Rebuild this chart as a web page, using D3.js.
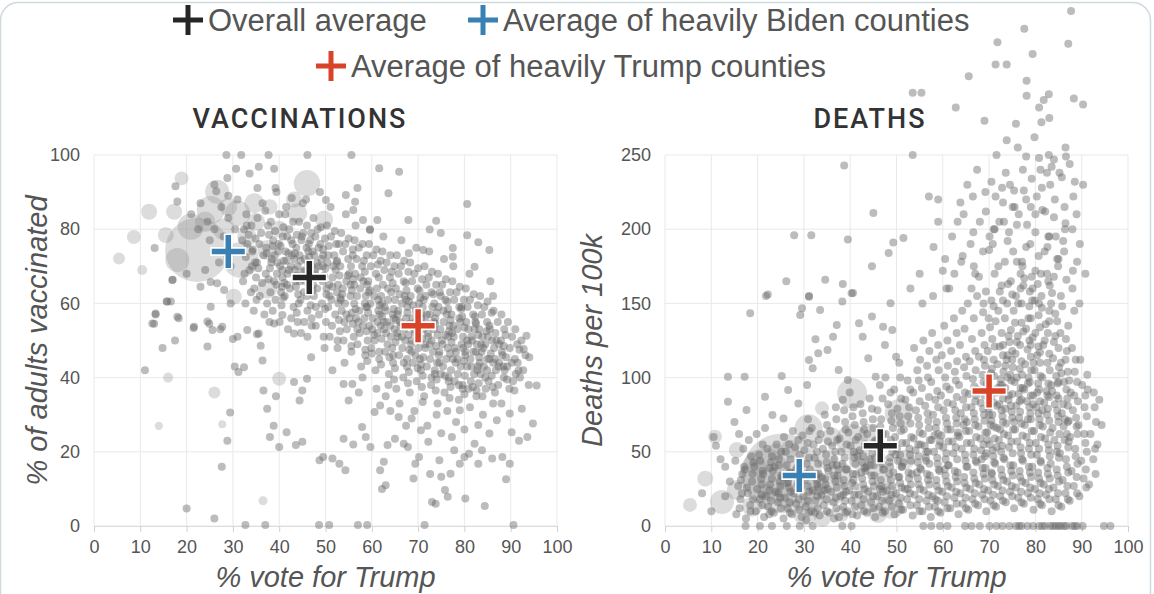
<!DOCTYPE html>
<html>
<head>
<meta charset="utf-8">
<script src="https://cdn.jsdelivr.net/npm/d3@7"></script>
<style>
  body { margin: 0; background: #fff; }
</style>
</head>
<body>
<div id="chart"></div>
<script>
// ---- data ----

const voteTicks = [0, 10, 20, 30, 40, 50, 60, 70, 80, 90, 100];
const vaccTicks = [0, 20, 40, 60, 80, 100];
const deathTicks = [0, 50, 100, 150, 200, 250];

const averageNames = ["Overall average", "Average of heavily Biden counties", "Average of heavily Trump counties"];

// [% vote for Trump, value] : overall, heavily Biden, heavily Trump
const vaccAverages = [[46.5, 67], [29, 74], [70, 54]];
const deathAverages = [[46.5, 54], [29, 34], [70, 91]];

// big counties: [vote, value, population in thousands]
const vaccBubbles = [
  [22.3, 74.4, 8900], [31.7, 71.7, 2800], [25.2, 85.2, 1700], [20.9, 80.7, 1500], [46, 92.4, 1500],
  [31, 84.3, 1400], [26.6, 90.1, 1250], [18, 71.7, 1250], [34.6, 87, 870], [37.4, 64, 870],
  [37.4, 74.4, 870], [43.9, 84.3, 870], [49.7, 82.6, 700], [11.9, 84.7, 550], [17.3, 84.7, 550],
  [15.5, 78.4, 550], [43.2, 88, 550], [30.2, 61.8, 550], [18.9, 93.7, 420], [8.6, 77.9, 420],
  [40, 39.7, 420], [5.4, 72.1, 310], [26, 36, 310], [10.4, 69, 220], [16, 40, 220],
  [14, 27, 150], [36.5, 6.8, 180], [27.7, 27.4, 120], [24, 82, 900], [28, 80, 1000],
  [33, 78, 800], [29, 86, 700], [35, 82, 700], [40, 80, 600], [38, 86, 500]
];

const deathBubbles = [
  [25.3, 35.5, 13800], [21.6, 35.5, 5400], [40.4, 57.9, 2200], [40.4, 89.4, 1950], [36, 24.2, 1950],
  [31, 65.8, 1700], [50.5, 75.9, 1700], [43.3, 17.5, 1700], [12.3, 16.2, 1250], [49, 13, 1250],
  [30.3, 8.5, 1250], [33, 28, 1000], [15.5, 24.2, 870], [18.8, 13, 870], [45, 40, 870],
  [35, 45, 870], [27, 52, 700], [22, 22, 700], [47, 30, 700], [8.7, 31.9, 550],
  [15.5, 51.2, 550], [38, 8, 550], [5.4, 14.2, 420], [10.8, 60.2, 420], [33.9, 79.3, 420],
  [38, 35, 1250], [42, 45, 1000], [48, 22, 900], [32, 18, 900], [26, 20, 1200],
  [36, 60, 800], [44, 62, 900], [20, 40, 700], [24, 50, 600], [52, 45, 800],
  [46, 8, 700], [34, 5, 600]
];

// small counties: [vote, % adults vaccinated]
const vaccPoints = [
  // sparse lower part
  [15.7,60.5],[13,54.5],[13.3,57],[18.3,56],[14.8,48],[17.5,50],[11,42],[27.6,16],[28.8,23],[29.4,30.6],
  [20,4.7],[26,2],[24.5,48.4],[21.5,53.4],[24.9,54.5],[27.3,53],[30,50.4],[30.4,43],[31.2,41.5],[32.4,42.8],
  [32.7,0.3],[35.2,51.7],[36,48.6],[36.4,44.6],[36.6,36.5],[37.4,31.6],[37,0.3],[38,24],[38.8,27],[39.3,35],
  [40,21.3],[41.6,25.3],[43.2,38.8],[43.6,21.8],[45,22.7],[44.4,33.8],[45,36.5],[46,39.7],[46.9,45.5],[47,54],
  [48.7,17.7],[49.5,18.6],[48.6,0.3],[50.8,0.3],[51.5,18.2],[53,16.8],[54.3,15],[51.5,42],[53.9,38.3],[55,33.8],
  [55.8,38.3],[53.9,23.5],[56,22],[57.9,26.7],[57,0.3],[59,0.3],[58.7,24],[59.7,21.3],[60.6,30.7],[61.8,32.5],
  [61.8,15],[62.2,10],[63,11],[62.6,17.3],[63.4,21.8],[65,23.5],[65.8,29.4],[66.9,22.2],[67.4,27],[67.8,21.3],
  [68.6,29],[69,12.8],[69.4,16.8],[70.2,18.6],[70.6,25.8],[71.4,0.3],[72.2,22.7],[72.6,14],[73,6.5],[73.8,6],
  [74.6,17.7],[75,13.3],[75.8,9.7],[76.4,7.9],[77,14.1],[77.8,20.4],[78.2,28],[79,16.8],[80,18.6],[80.2,7.4],
  [81,19.5],[82.2,22.2],[83,16.8],[83.8,20.4],[84.4,5.4],[85.4,24.9],[86,18.2],[87,28.5],[88.2,18.6],[89,12.6],
  [89.8,16.8],[89.8,30.3],[90.6,0.3],[90.2,25.3],[91.8,23],[92.4,31.6],[93.6,24],[94.8,27.6],[95.6,37.9],[94,45.5],
  [92.8,47.7],[93.4,51.3],[91.7,41.9],[90.8,36.5],[63,35],[66,33],[69.2,31],[71,33.4],[74,30],[76.3,31],
  [79,31.2],[81.2,32],[84,30],[86.2,33],[88,33],[72,27],[75,25],[77.3,24],[80,26],[83,27.2],
  [61,37],[58,40],[57.2,36],[64,31],
  // top edge
  [28.6,100],[31.8,100],[37.7,100],[46.1,100],[55.6,100],[30.7,96.3],[33.6,95],[35.6,96.8],[38.9,96.3],[17.6,91.6],
  [18,87.5],[26.4,90.2],[28.8,93.8],[35.3,91.1],[39.2,91.1],[42.7,88.4],[45.1,87],[50.1,87.9],[54.4,89.2],[56.9,91.1],
  [56,85.2],[58.1,82.5],[59.6,79.8],[61.6,96.4],[65.9,95.5],[63.6,89.7],[56.4,87.4],[61.2,82.5],[67.9,82.5],[73.9,82.3],
  [80.6,86.8],[80.6,78.4],[83,76.5],[85.4,74.4],[82.2,69.9],[77.5,72.6],[68,73.5],[71.1,74.4],[77.5,74.9],[74.9,79],
  [72.5,79.9],
  // left, heavily Biden side
  [13.3,57.3],[12.6,54.6],[15.8,60.5],[18,56.4],[21.6,53.7],[24.5,55.1],[25.6,52.8],[27.7,53.7],[31,51],[33.1,52.8],
  [35.6,51.9],[38.9,54.6],[40.7,56.9],[43.2,51.9],[46.1,51],[16.9,66.3],[16.6,60.5],[23,64.5],[25.2,65.8],[26.6,65.4],
  [28.1,63.6],[29.5,60],[25.2,59.1],[13.1,74.9],[17,66.4],[21,84],[23,87],[24.5,82],[26,80],[27.5,86],
  [29,83],[30.5,80],[32,77],[28,78],[25,77],[22.5,80],[27,71],[29.5,70],[32.5,68],[24,69],
  [20,68],[31,88],[33,81],[29,89],[26,92],
  // dense band
  [32.4,80],[33.1,76],[32.8,72.5],[33.6,69],[32.2,66],[33.9,63],[32.7,60],[34.2,74],[33.4,78.5],[32.9,84],[34.5,58],[34.8,71],
  [35.3,83],[36.1,79],[35.7,76],[36.6,73],[35.2,71],[37.1,68],[36.3,65.5],[35.8,62],[37.4,60],[36.8,57],[37.2,75],[35.5,69.5],[36.4,87],[37.6,81],
  [38.2,82],[39.1,79.5],[38.7,77],[39.8,74],[38.4,72],[40.2,70],[39.5,68],[38.9,66],[40.4,63],[39.2,61],[38.6,58],[40.1,55],[39.9,76],[38.3,71],[40.6,64.5],[39.4,90],[40.8,78],
  [41.3,84],[42.2,80],[41.7,78],[42.9,76],[41.4,74],[43.2,72],[42.5,70],[41.8,68],[43.5,66],[42.3,64],[41.2,62],[43.1,59],[42.6,56],[41.9,53],[43.7,75],[42.1,69],[41.5,86],[43.9,67.5],
  [44.3,82],[45.2,79],[44.8,77],[45.9,75],[44.4,73],[46.2,71],[45.6,69],[44.9,67],[46.5,65],[45.3,63],[44.6,61],[46.1,58],[45.4,55],[44.7,52],[46.3,74],[45.1,68.5],[44.2,60],[45.8,88],[46.7,77],
  [47.4,83],[48.3,80],[47.8,78],[48.9,76],[47.2,74],[49.1,72],[48.5,70],[47.7,68],[49.4,66],[48.2,64],[47.5,62],[49.2,60],[48.6,57],[47.9,54],[49.6,51],[48.1,71],[47.3,65],[48.8,90],[49.8,48],[49.5,74.5],
  [50.3,81],[51.2,78],[50.7,75.5],[51.9,73],[50.4,71],[52.2,69],[51.5,67],[50.8,65],[52.5,63],[51.3,61],[50.6,59],[52.1,57],[51.4,54],[50.9,51],[52.6,48],[51.7,70],[50.2,64],[52.8,60],[51.1,86],[52.3,76],
  [53.4,79],[54.3,76],[53.8,74],[54.9,72],[53.2,70],[55.1,68],[54.5,66],[53.7,64],[55.4,62],[54.2,60],[53.5,58],[55.2,56],[54.6,53],[53.9,50],[55.6,47],[54.1,44],[54.8,67.5],[53.3,61],[55.7,57.5],[54.4,84],[55.9,73],
  [56.3,77],[57.2,75],[56.7,72],[57.9,70],[56.4,68],[58.2,66],[57.5,64],[56.8,62],[58.5,60],[57.3,58],[56.6,56],[58.1,54],[57.4,52],[56.9,49],[58.6,46],[57.7,43],[56.2,65],[58.8,59],[57.1,55],[56.5,81],[58.3,71.5],
  [59.4,76],[60.3,73],[59.8,70],[60.9,68],[59.2,66],[61.1,64],[60.5,62],[59.7,60],[61.4,58],[60.2,56],[59.5,54],[61.2,52],[60.6,50],[59.9,48],[61.6,45],[60.8,42],[59.3,63],[61.7,57],[60.1,53],[59.6,80],[61.3,70.5],
  [62.3,74],[63.2,71],[62.7,69],[63.9,67],[62.4,65],[64.2,63],[63.5,61],[62.8,59],[64.5,57],[63.3,55],[62.6,53],[64.1,51],[63.4,49],[62.9,47],[64.6,44],[63.7,41],[62.2,60],[64.8,56],[63.1,52],[62.5,78],[64.3,68.5],[63.6,38],
  [65.4,73],[66.3,70],[65.8,68],[66.9,66],[65.2,64],[67.1,62],[66.5,60],[65.7,58],[67.4,56],[66.2,54],[65.5,52],[67.2,50],[66.6,48],[65.9,46],[67.6,43],[66.8,40],[65.3,37],[67.7,59],[66.1,55],[65.6,51],[66.4,77],[67.3,65.5],
  [68.3,71],[69.2,68],[68.7,66],[69.9,64],[68.4,62],[70.2,60],[69.5,58],[68.8,56],[70.5,54],[69.3,52],[68.6,50],[70.1,48],[69.4,46],[68.9,44],[70.6,42],[69.7,39],[68.2,36],[70.8,57],[69.1,53],[68.5,49],[69.6,75],[70.3,63.5],
  [71.4,70],[72.3,67],[71.8,65],[72.9,63],[71.2,61],[73.1,59],[72.5,57],[71.7,55],[73.4,53],[72.2,51],[71.5,49],[73.2,47],[72.6,45],[71.9,43],[73.6,41],[72.8,38],[71.3,35],[73.7,56],[72.1,52],[71.6,48],[72.4,74],[73.3,62.5],
  [74.3,68],[75.2,65],[74.7,63],[75.9,61],[74.4,59],[76.2,57],[75.5,55],[74.8,53],[76.5,51],[75.3,49],[74.6,47],[76.1,45],[75.4,43],[74.9,41],[76.6,39],[75.7,36],[74.2,33],[76.8,54],[75.1,50],[74.5,46],[75.6,72],[76.3,60.5],
  [77.4,66],[78.3,63],[77.8,61],[78.9,59],[77.2,57],[79.1,55],[78.5,53],[77.7,51],[79.4,49],[78.2,47],[77.5,45],[79.2,43],[78.6,41],[77.9,39],[79.6,37],[78.8,34],[77.3,52],[79.7,48],[78.1,44],[77.6,70],[79.3,58.5],
  [80.3,64],[81.2,61],[80.7,59],[81.9,57],[80.4,55],[82.2,53],[81.5,51],[80.8,49],[82.5,47],[81.3,45],[80.6,43],[82.1,41],[81.4,39],[80.9,37],[82.6,35],[81.7,50],[80.2,46],[82.8,42],[81.1,68],[82.3,56.5],
  [83.4,62],[84.3,59],[83.8,57],[84.9,55],[83.2,53],[85.1,51],[84.5,49],[83.7,47],[85.4,45],[84.2,43],[83.5,41],[85.2,39],[84.6,37],[83.9,35],[84.1,48],[83.3,44],[85.6,66],[84.8,52.5],
  [86.3,58],[87.2,55],[86.7,52],[87.9,50],[86.4,48],[88.2,46],[87.5,44],[86.8,42],[88.5,40],[87.3,38],[86.6,36],[88.1,47],[87.4,43],[86.2,62],[88.6,53],
  [89.4,55],[90.3,51],[89.8,48],[90.9,45],[89.2,43],[91.1,41],[90.5,39],[89.7,37],[90.2,44],[91.4,49],
  [92.3,50],[93.2,46],[92.7,42],[93.9,38],
  // dense band, second layer
  [34.0,81],[34.9,77.5],[34.3,74.5],[35.0,67],[34.6,64],[35.1,61],[34.1,70],
  [37.0,85],[37.8,78.5],[37.3,73.5],[38.0,69.5],[37.7,66.5],[38.1,63],[37.9,55],
  [40.0,84],[40.9,80.5],[40.3,75.5],[41.0,71.5],[40.7,67],[41.1,65.5],[40.5,59.5],[40.9,61.5],
  [43.0,82],[43.8,78.5],[43.4,73.5],[44.0,70],[43.6,64.5],[44.1,62.5],[43.8,57.5],[44.0,55],
  [46.0,81],[46.9,79],[46.5,72.5],[47.0,70],[46.6,66.5],[47.2,63.5],[46.8,59.5],[47.0,56],
  [49.0,80.5],[49.9,77.5],[49.5,73],[50.0,69.5],[49.7,67.5],[50.2,62.5],[49.9,58.5],[50.1,55],
  [52.0,79.5],[52.9,76],[52.5,71.5],[53.0,67.5],[52.7,65],[53.2,61.5],[52.9,55.5],[53.1,52.5],[52.6,50],
  [55.0,77.5],[55.9,74.5],[55.5,70],[56.0,66.5],[55.7,63.5],[56.2,60],[55.9,54.5],[56.1,51],[55.6,48.5],
  [58.0,76],[58.9,73],[58.5,68.5],[59.0,65],[58.7,62],[59.2,57.5],[58.9,52.5],[59.1,50],[58.6,47.5],[59.0,44.5],
  [61.0,74.5],[61.9,71.5],[61.5,67],[62.0,62],[61.7,59.5],[62.2,56.5],[61.9,54],[62.1,50.5],[61.6,47],[62.0,43.5],
  [64.0,73],[64.9,70],[64.5,65.5],[65.0,61],[64.7,58.5],[65.2,55.5],[64.9,53],[65.1,49.5],[64.6,46],[65.0,42.5],[64.8,39.5],
  [67.0,71.5],[67.9,68.5],[67.5,63.5],[68.0,60.5],[67.7,57.5],[68.2,54.5],[67.9,51.5],[68.1,47.5],[67.6,45],[68.0,41.5],[67.8,38.5],
  [70.0,69.5],[70.9,66.5],[70.5,61.5],[71.0,59],[70.7,56],[71.2,53],[70.9,50.5],[71.1,45.5],[70.6,43.5],[71.0,40.5],[70.8,37.5],
  [73.0,68.5],[73.9,65],[73.5,60],[74.0,57.5],[73.7,54.5],[74.2,51.5],[73.9,48.5],[74.1,44],[73.6,42],[74.0,39.5],[73.8,36.5],
  [76.0,66.5],[76.9,63],[76.5,58.5],[77.0,55.5],[76.7,52.5],[77.2,49.5],[76.9,46.5],[77.1,42],[76.6,40],[77.0,37.5],[76.8,34.5],
  [79.0,64.5],[79.9,61],[79.5,56.5],[80.0,53.5],[79.7,51],[80.2,47],[79.9,44.5],[80.1,40.5],[79.6,38],[80.0,35.5],
  [82.0,62.5],[82.9,59.5],[82.5,54.5],[83.0,51.5],[82.7,49],[83.2,45.5],[82.9,43],[83.1,38.5],[82.6,36.5],
  [85.0,60.5],[85.9,57.5],[85.5,53],[86.0,50],[85.7,46.5],[86.2,44],[85.9,40.5],[86.1,37.5],
  [88.0,57],[88.9,51.5],[88.5,48.5],[89.0,45.5],[88.7,42],[89.2,39.5],
  [91.0,53],[91.9,47.5],[91.5,44],[92.0,40],
  [42.8,73],[45.5,72],[47.8,69],[44.5,66],[41.5,71.5],[39,73],[48.5,75],[46,62],
  // densest part, third layer
  [38.6,75.5],[39.6,71],[40.7,69],[41.7,65],[42.6,77],[43.4,69],[44.6,71.5],[45.7,66],[46.4,76],[47.6,73],
  [48.3,67],[49.4,70],[50.6,73],[51.5,64.5],[52.4,71],[39.4,65],[42,73.5],[44.9,78],[47.9,59],[50.9,62],
  [53.6,62.5],[54.5,57],[55.4,65],[56.5,58.5],[57.6,67],[58.4,56],[59.6,63.5],[60.5,51.5],[61.4,61],[62.6,55],
  [63.5,64],[64.4,48],[65.6,57],[66.5,51],[67.4,61],[68.6,47],[69.5,55],[70.4,45],[71.6,62],[72.5,49],
  [73.4,55],[74.6,44],[75.5,58],[76.4,48],[77.6,54],[78.5,45],[79.4,59],[80.6,50],[81.5,43],[82.4,55],
  [83.6,49],[84.5,40],[85.4,54],[86.6,45],[87.5,49],[88.4,43],
  [54.1,55],[56.9,53],[59,59],[61.2,55],[63,58],[64,54],[66,62.5],[67,53],[68.9,59.5],[70,51],
  [71.9,57],[72.9,50],[74.9,62],[75.9,51.5],[77.9,48],[78.9,56],[80.9,53],[81.9,47],[83.9,51],[84.9,45],
  [86.9,50],[60,46.5],[63.8,45.5],[66.9,44],[69.9,42.5],[72.9,40],[75.8,40.5],[78.8,38],[81.8,37.5],[84.9,42]
];

// small counties: [vote, deaths per 100k]
const deathPoints = [
  // zero row
  [17.4,0],[20.5,0],[23.1,0],[26.3,0],[29.1,0],[31.9,0],[38.3,0],[40.3,0],[55.8,0],[57.5,0],
  [59.4,0],[61,0],[64.8,0],[66.2,0],[68,0],[70.1,0],[71.6,0],[72.9,0],[74.4,0],[75.8,0],
  [77,0],[78.3,0],[79.5,0],[80.8,0],[82.1,0],[83.2,0],[84.4,0],[85.5,0],[86.7,0],[87.9,0],
  [89,0],[90.2,0],[94.8,0],[96.2,0],[83.8,0],[85,0],[86.2,0],[88.5,0],[81.5,0],[76.5,0],
  // above the plot
  [87.7,347],[77.6,335],[71.8,326],[87.1,325],[79.4,318],[71.4,311],[73.8,311],[65.6,303],[78.1,300],[78.1,290],
  [82.9,291],[81.8,287],[80.8,282],[88.3,288],[90.3,284],[53.5,292],[55.4,292],[62.8,282],[69,273],[75.8,271],
  [81.3,272],[83,275],[73.8,260],[79.8,262],[76.2,255],[71.6,250],[86.5,255],[53.5,250],[38.7,243],
  // upper spray
  [27.9,196],[31.6,196],[39.5,193],[45,211],[49.3,191],[51.5,194],[48.3,184],[44.7,175],[40.6,157],[38.4,163],
  [34.6,166],[26.2,165],[22.2,156],[31.1,155],[57,222],[59,205],[60.5,180],[55,170],[58,188],[53,160],
  [78,249],[80.8,248],[84,247],[86.6,249],[82.5,238],[85.7,235],[88.5,232],[90.3,230],[70.5,232],[72.8,228],
  [74.5,230],[77.5,226],[69.2,225],[66.5,222],[63.8,218],[59,220],[73,218],[75.5,215],[79,215],[81.5,213],
  [84,208],[86.5,204],[88,200],[64.5,210],[68,205],[71,200],[76,203],[80,198],[83,195],[86,192],
  [62,195],[66,190],[70,186],[74,192],[78,188],[82,185],[85,180],[89,178],[60,172],[64,178],
  [67,170],[72,175],[76,178],[80,172],[84,168],[88,160],
  [70.5,152],[72.3,158],[74.1,163],[75.8,155],[77.6,167],[79.4,160],[81.2,170],[83.1,162],[84.9,175],[86.7,166],
  [71.2,170],[73.4,178],[75.2,185],[77.1,178],[78.9,190],[80.7,182],[82.6,188],[84.4,195],[86.2,185],[88.1,172],
  [70.1,195],[72.2,205],[74.3,198],[76.4,210],[78.2,203],[80.3,222],[82.1,212],[84.2,220],[86.3,215],[88.2,222],
  [69.3,212],[71.4,222],[73.6,238],[75.4,226],[77.3,240],[79.2,234],[81.4,228],[83.5,242],[85.2,238],[87.4,244],
  [66.2,160],[67.8,168],[64.3,182],[66.6,198],[62.5,170],[68.8,150],[73.9,150],[79.9,152],[85.5,155],[89.5,150],
  [65.3,230],[67.4,240],[63.2,205],[60.8,160],[57.9,155],[55.6,150],[90.8,170],[89.6,190],[88.9,210],[82.9,250],
  // sparse left
  [13.6,100.6],[17.2,100.6],[13.6,83.8],[17.6,78.2],[18.4,143.3],[21.8,155],[25.2,101],[26.6,91.6],[21.6,87.1],[23.2,74.8],
  [25.6,72.5],[28.8,82.6],[29.2,142.2],[29.6,146.7],[30.7,95],[31.1,154.5],[32.5,125.8],[33.5,145.6],[33.1,116.4],[31.1,111.9],
  [31.9,106.3],[35.1,118.6],[36.3,127.6],[37.1,135.4],[37.5,105.2],[38.3,151.2],[39.5,98.4],[40.3,156.8],[41.9,136.6],[42.7,127.6],
  [43.9,113],[44.7,141.1],[45.5,100.6],[47.1,134.3],[47.5,122],[49.1,132],[49.9,114.1],[48.7,150.1],
  [10.5,60],[11,54],[13,40],[14,30],[12,45],[10,10],[13,20],[8,22],[16,62],[15,70],
  // main cloud
  [15.4,8],[16.3,18],[15.8,27],[16.7,35],[15.2,44],[16.9,52],[16.1,12],
  [17.5,5],[18.4,14],[17.9,22],[18.8,30],[17.3,38],[18.6,47],[18.1,58],[17.7,26],
  [19.6,10],[20.5,18],[19.9,25],[20.8,32],[19.3,40],[20.3,48],[19.8,62],[20.9,21],
  [21.4,6],[22.3,13],[21.8,20],[22.7,28],[21.2,35],[22.9,43],[22.1,52],[21.6,66],[22.5,24],
  [23.5,9],[24.4,16],[23.9,23],[24.8,30],[23.3,37],[24.6,45],[24.1,55],[23.7,40],[24.9,19],
  [25.6,5],[26.5,12],[25.9,19],[26.8,26],[25.3,33],[26.3,41],[26.1,50],[25.7,60],[26.9,36],
  [27.4,8],[28.3,15],[27.8,22],[28.7,29],[27.2,36],[28.9,44],[28.1,53],[27.6,64],[28.5,27],
  [29.5,6],[30.4,13],[29.9,20],[30.8,27],[29.3,34],[30.6,42],[30.1,51],[29.7,61],[30.9,72],[30.2,31],
  [31.6,10],[32.5,17],[31.9,24],[32.8,31],[31.3,38],[32.3,46],[32.1,55],[31.7,66],[32.9,28],
  [33.4,7],[34.3,14],[33.8,21],[34.7,28],[33.2,35],[34.9,43],[34.1,52],[33.6,62],[34.5,75],[33.9,33],
  [35.5,9],[36.4,16],[35.9,23],[36.8,30],[35.3,37],[36.6,45],[36.1,54],[35.7,64],[36.9,80],[36.2,41],
  [37.6,6],[38.5,13],[37.9,20],[38.8,27],[37.3,34],[38.3,42],[38.1,50],[37.7,59],[38.9,70],[38.4,85],[37.5,38],
  [39.4,10],[40.3,17],[39.8,24],[40.7,31],[39.2,38],[40.9,46],[40.1,54],[39.6,63],[40.5,74],[39.9,90],[40.4,29],
  [41.5,7],[42.4,14],[41.9,21],[42.8,28],[41.3,35],[42.6,43],[42.1,51],[41.7,60],[42.9,70],[42.2,82],[41.6,47],
  [43.6,9],[44.5,16],[43.9,23],[44.8,30],[43.3,37],[44.3,45],[44.1,53],[43.7,62],[44.9,72],[44.2,86],[43.5,40],
  [45.4,6],[46.3,13],[45.8,20],[46.7,27],[45.2,34],[46.9,42],[46.1,50],[45.6,58],[46.5,67],[45.9,78],[46.4,95],[45.3,46],
  [47.5,10],[48.4,17],[47.9,24],[48.8,31],[47.3,38],[48.6,46],[48.1,54],[47.7,62],[48.9,71],[48.2,82],[47.6,100],[48.5,35],
  [49.6,8],[50.5,15],[49.9,22],[50.8,29],[49.3,36],[50.3,44],[50.1,52],[49.7,60],[50.9,69],[50.2,79],[49.5,92],[50.6,110],[49.8,48],
  [51.4,11],[52.3,18],[51.8,25],[52.7,32],[51.2,40],[52.9,48],[52.1,56],[51.6,65],[52.5,74],[51.9,85],[52.4,98],[51.5,43],
  [53.5,7],[54.4,14],[53.9,21],[54.8,28],[53.3,35],[54.6,43],[54.1,51],[53.7,59],[54.9,68],[54.2,78],[53.6,90],[54.5,105],[53.8,120],[54.7,55],
  [55.6,10],[56.5,17],[55.9,24],[56.8,31],[55.3,38],[56.3,46],[56.1,54],[55.7,62],[56.9,71],[56.2,81],[55.5,93],[56.6,108],[55.8,125],[56.4,50],
  [57.4,6],[58.3,13],[57.8,20],[58.7,27],[57.2,34],[58.9,42],[58.1,50],[57.6,58],[58.5,66],[57.9,75],[58.4,85],[57.5,97],[58.6,112],[57.7,130],[58.2,61],
  [59.5,9],[60.4,16],[59.9,23],[60.8,30],[59.3,37],[60.6,45],[60.1,53],[59.7,61],[60.9,69],[60.2,78],[59.6,88],[60.5,100],[59.8,115],[60.3,135],[59.4,57],
  [61.6,12],[62.5,19],[61.9,26],[62.8,33],[61.3,41],[62.3,49],[62.1,57],[61.7,65],[62.9,73],[62.2,82],[61.5,92],[62.6,104],[61.8,118],[62.4,140],[61.4,160],
  [63.4,8],[64.3,15],[63.8,22],[64.7,29],[63.2,36],[64.9,44],[64.1,52],[63.6,60],[64.5,68],[63.9,76],[64.4,85],[63.5,95],[64.6,107],[63.7,122],[64.2,145],[63.3,63],
  [65.5,11],[66.4,18],[65.9,25],[66.8,32],[65.3,40],[66.6,48],[66.1,56],[65.7,64],[66.9,72],[66.2,80],[65.6,89],[66.5,99],[65.8,111],[66.3,126],[65.4,150],[66.7,175],[65.2,70],
  [67.6,14],[68.5,21],[67.9,28],[68.8,35],[67.3,43],[68.3,51],[68.1,59],[67.7,67],[68.9,75],[68.2,83],[67.5,92],[68.6,102],[67.8,114],[68.4,130],[67.4,155],[68.7,185],[67.2,88],
  [69.4,10],[70.3,17],[69.8,24],[70.7,31],[69.2,39],[70.9,47],[70.1,55],[69.6,63],[70.5,71],[69.9,79],[70.4,87],[69.5,96],[70.6,106],[69.7,118],[70.2,134],[69.3,158],[70.8,190],[70,75],
  [71.5,13],[72.4,20],[71.9,27],[72.8,34],[71.3,42],[72.6,50],[72.1,58],[71.7,66],[72.9,74],[72.2,82],[71.6,90],[72.5,99],[71.8,109],[72.3,121],[71.4,138],[72.7,162],[71.2,200],[72,93],
  [73.6,16],[74.5,23],[73.9,30],[74.8,37],[73.3,45],[74.3,53],[74.1,61],[73.7,69],[74.9,77],[74.2,85],[73.5,93],[74.6,102],[73.8,112],[74.4,124],[73.4,140],[74.7,165],[73.2,205],[74,115],
  [75.4,12],[76.3,19],[75.8,26],[76.7,33],[75.2,41],[76.9,49],[76.1,57],[75.6,65],[76.5,73],[75.9,81],[76.4,89],[75.5,97],[76.6,106],[75.7,116],[76.2,128],[75.3,145],[76.8,170],[75.1,215],[76,100],
  [77.5,15],[78.4,22],[77.9,29],[78.8,36],[77.3,44],[78.6,52],[78.1,60],[77.7,68],[78.9,76],[78.2,84],[77.6,92],[78.5,100],[77.8,109],[78.3,119],[77.4,131],[78.7,148],[77.2,175],[78,220],[78.4,96],
  [79.6,11],[80.5,18],[79.9,25],[80.8,32],[79.3,40],[80.3,48],[80.1,56],[79.7,64],[80.9,72],[80.2,80],[79.5,88],[80.6,96],[79.8,105],[80.4,115],[79.4,127],[80.7,142],[79.2,168],[80,210],[79.6,110],
  [81.4,14],[82.3,21],[81.8,28],[82.7,35],[81.2,43],[82.9,51],[82.1,59],[81.6,67],[82.5,75],[81.9,83],[82.4,91],[81.5,100],[82.6,110],[81.7,122],[82.2,136],[81.3,155],[82.8,195],[81.1,240],
  [83.5,10],[84.4,18],[83.9,26],[84.8,34],[83.3,42],[84.6,50],[84.1,58],[83.7,66],[84.9,74],[84.2,82],[83.6,91],[84.5,101],[83.8,113],[84.3,128],[83.4,150],[84.7,180],[83.2,230],
  [85.6,13],[86.5,22],[85.9,31],[86.8,40],[85.3,49],[86.3,58],[86.1,67],[85.7,76],[86.9,86],[86.2,97],[85.5,110],[86.6,126],[85.8,148],[86.4,200],
  [87.4,17],[88.3,27],[87.8,37],[88.7,47],[87.2,57],[88.9,67],[88.1,78],[87.6,90],[88.5,104],[87.9,120],[88.4,145],
  [89.5,20],[90.4,32],[89.9,44],[90.8,56],[89.3,68],[90.6,80],[90.1,95],[89.7,112],
  [91.6,28],[92.5,45],[91.9,62],[92.8,80],[91.3,92],
  [93.4,55],[94.3,68],[93.8,85],
  // main cloud, second layer
  [16.6,22],[17.1,40],[16.4,31],
  [19.0,18],[18.9,35],[19.1,43],[18.5,10],
  [21.0,14],[20.9,28],[21.1,37],[20.6,44],[21.1,55],
  [23.0,10],[22.9,17],[23.1,32],[22.6,39],[23.1,47],
  [25.0,12],[24.9,27],[25.1,34],[24.6,41],[25.1,50],
  [27.0,9],[26.9,16],[27.1,23],[26.6,30],[27.1,45],[26.8,55],
  [29.0,11],[28.9,18],[29.1,25],[28.6,40],[29.1,48],[28.8,58],
  [31.0,9],[30.9,17],[31.1,23],[30.6,35],[31.1,46],[30.8,56],[31.2,64],
  [33.0,12],[32.9,20],[33.1,26],[32.6,35],[33.1,42],[32.8,50],[33.2,58],
  [35.0,10],[34.9,18],[35.1,25],[34.6,32],[35.1,39],[34.8,48],[35.2,57],[35.0,68],
  [37.0,12],[36.9,19],[37.1,26],[36.6,34],[37.1,41],[36.8,50],[37.2,58],[37.0,72],
  [39.0,9],[38.9,17],[39.1,23],[38.6,31],[39.1,38],[38.8,46],[39.2,55],[39.0,65],[38.7,78],
  [41.0,13],[40.9,21],[41.1,27],[40.6,35],[41.1,42],[40.8,50],[41.2,58],[41.0,68],[40.7,80],
  [43.0,10],[42.9,18],[43.1,25],[42.6,32],[43.1,39],[42.8,47],[43.2,55],[43.0,65],[42.7,76],
  [45.0,12],[44.9,20],[45.1,27],[44.6,34],[45.1,41],[44.8,49],[45.2,57],[45.0,66],[44.7,79],
  [47.0,9],[46.9,17],[47.1,23],[46.6,31],[47.1,38],[46.8,46],[47.2,54],[47.0,62],[46.7,72],[47.0,86],
  [49.0,13],[48.9,21],[49.1,27],[48.6,40],[49.1,50],[48.8,58],[49.2,66],[49.0,76],[48.7,90],
  [51.0,11],[50.9,19],[51.1,26],[50.6,33],[51.1,40],[50.8,48],[51.2,56],[51.0,64],[50.7,74],[51.0,86],[50.8,100],
  [53.0,14],[52.9,22],[53.1,28],[52.6,36],[53.1,44],[52.8,52],[53.2,60],[53.0,69],[52.7,80],[53.0,92],
  [55.0,10],[54.9,18],[55.1,25],[54.6,32],[55.1,39],[54.8,47],[55.2,55],[55.0,63],[54.7,73],[55.0,84],[54.8,98],[55.1,112],
  [57.0,13],[56.9,21],[57.1,28],[56.6,35],[57.1,42],[56.8,50],[57.2,58],[57.0,66],[56.7,76],[57.0,87],[56.8,100],[57.1,118],
  [59.0,10],[58.9,17],[59.1,24],[58.6,31],[59.1,38],[58.8,46],[59.2,54],[59.0,62],[58.7,70],[59.0,80],[58.8,91],[59.1,105],[59.0,122],
  [61.0,12],[60.9,20],[61.1,27],[60.6,34],[61.1,41],[60.8,49],[61.2,57],[61.0,65],[60.7,73],[61.0,83],[60.8,94],[61.1,108],[61.0,125],
  [63.0,15],[62.9,23],[63.1,30],[62.6,37],[63.1,45],[62.8,53],[63.2,61],[63.0,69],[62.7,78],[63.0,87],[62.8,98],[63.1,111],[63.0,130],
  [65.0,12],[64.9,19],[65.1,26],[64.6,33],[65.1,40],[64.8,48],[65.2,56],[65.0,64],[64.7,72],[65.0,80],[64.8,90],[65.1,101],[65.0,114],[64.7,133],
  [67.0,15],[66.9,22],[67.1,29],[66.6,36],[67.1,44],[66.8,52],[67.2,60],[67.0,68],[66.7,76],[67.0,84],[66.8,94],[67.1,105],[67.0,118],[66.7,140],
  [69.0,18],[68.9,25],[69.1,32],[68.6,39],[69.1,47],[68.8,55],[69.2,63],[69.0,71],[68.7,79],[69.0,88],[68.8,97],[69.1,108],[69.0,122],[68.7,144],
  [71.0,14],[70.9,21],[71.1,28],[70.6,35],[71.1,43],[70.8,51],[71.2,59],[71.0,67],[70.7,75],[71.0,83],[70.8,92],[71.1,101],[71.0,112],[70.7,126],[71.0,148],
  [73.0,17],[72.9,24],[73.1,31],[72.6,38],[73.1,46],[72.8,54],[73.2,62],[73.0,70],[72.7,78],[73.0,86],[72.8,95],[73.1,104],[73.0,115],[72.7,130],[73.0,152],
  [75.0,20],[74.9,27],[75.1,34],[74.6,41],[75.1,49],[74.8,57],[75.2,65],[75.0,73],[74.7,81],[75.0,89],[74.8,98],[75.1,107],[75.0,118],[74.7,132],[75.0,156],
  [77.0,16],[76.9,23],[77.1,30],[76.6,37],[77.1,45],[76.8,53],[77.2,61],[77.0,69],[76.7,77],[77.0,85],[76.8,93],[77.1,102],[77.0,111],[76.7,122],[77.0,137],[76.8,160],
  [79.0,19],[78.9,26],[79.1,33],[78.6,40],[79.1,48],[78.8,56],[79.2,64],[79.0,72],[78.7,80],[79.0,88],[78.8,97],[79.1,105],[79.0,114],[78.7,125],[79.0,140],[78.8,158],
  [81.0,15],[80.9,22],[81.1,29],[80.6,36],[81.1,44],[80.8,52],[81.2,60],[81.0,68],[80.7,76],[81.0,84],[80.8,92],[81.1,101],[81.0,110],[80.7,121],[81.0,134],[80.8,150],
  [83.0,18],[82.9,25],[83.1,32],[82.6,39],[83.1,47],[82.8,55],[83.2,63],[83.0,71],[82.7,79],[83.0,87],[82.8,96],[83.1,105],[83.0,116],[82.7,130],[83.0,145],[82.8,165],
  [85.0,14],[84.9,22],[85.1,30],[84.6,38],[85.1,46],[84.8,54],[85.2,62],[85.0,70],[84.7,78],[85.0,86],[84.8,96],[85.1,107],[85.0,120],[84.7,138],
  [87.0,18],[86.9,27],[87.1,36],[86.6,45],[87.1,53],[86.8,62],[87.2,71],[87.0,81],[86.7,92],[87.0,104],[86.8,118],[87.1,135],
  [89.0,22],[88.9,33],[89.1,42],[88.6,52],[89.1,62],[88.8,73],[89.2,84],[89.0,97],[88.7,112],
  [91.0,26],[90.9,38],[91.1,50],[90.6,62],[91.1,74],[90.8,88],[91.2,102],
  [93.0,35],[92.9,52],[93.1,70],[92.6,90],
  // densest part, third layer
  [68.4,45],[69.6,58],[70.3,68],[71.7,81],[72.4,95],[73.5,108],[74.2,128],[75.6,137],[76.3,150],[77.4,162],
  [78.5,140],[79.3,152],[80.5,163],[81.4,147],[82.5,170],[83.6,157],[84.3,143],[85.4,130],[86.5,112],[87.3,98],
  [68.9,112],[69.9,140],[70.4,103],[71.2,121],[72,145],[73,122],[74,100],[75,112],[76,124],[77,150],
  [78,133],[79,122],[80,130],[81,117],[82,125],[83,138],[84,124],[85,97],[86,82],[87,70],
  [69.4,49],[70.5,36],[71.6,53],[72.4,65],[73.5,79],[74.3,88],[75.4,70],[76.6,84],[77.3,93],[78.4,72],
  [79.5,82],[80.4,90],[81.5,78],[82.6,88],[83.4,95],[84.6,88],[85.6,103],[86.4,72],[87.5,60],[88.4,88],
  [22.5,8],[24.5,22],[26.4,29],[28.3,38],[30.5,4],[32.4,9],[34.4,24],[36.5,5],[38.5,21],[40.5,8],
  [42.4,36],[44.4,41],[46.4,25],[48.5,43],[50.4,33],[52.4,25],[54.4,36],[56.4,44],[58.4,18],[60.4,38]
];

// ---- styling / layout ----
const W = 1154, H = 594;
const avgColors = ["#262626", "#3b80b3", "#d8432a"];
const plotTop = 155, plotBottom = 526, plotW = 463;
const textFont = "'Liberation Sans', Arial, Helvetica, sans-serif";

const svg = d3.select("#chart").append("svg")
    .attr("width", W)
    .attr("height", H)
    .attr("font-family", textFont);

svg.append("rect")
    .attr("width", W).attr("height", H)
    .attr("fill", "#fff");

// card outline
svg.append("rect")
    .attr("x", 0.5).attr("y", 2.5)
    .attr("width", W - 4).attr("height", H + 40)
    .attr("rx", 18)
    .attr("fill", "none")
    .attr("stroke", "#cfd9de")
    .attr("stroke-width", 1.5);

const r = d3.scaleSqrt().domain([0, 10000]).range([0, 34]);
const dotR = 4;

function crossPath(a) {
  return `M${-a},0H${a}M0,${-a}V${a}`;
}

function drawPanel(cfg) {
  const x = d3.scaleLinear().domain([0, 100]).range([cfg.left, cfg.left + plotW]);
  const y = d3.scaleLinear().domain([0, cfg.yMax]).range([plotBottom, plotTop]);
  const g = svg.append("g");

  // grid
  g.append("g")
      .attr("stroke", "#e9e9e9")
      .attr("stroke-width", 1)
    .call(s => s.selectAll("line.v").data(voteTicks).join("line")
        .attr("class", "v")
        .attr("x1", d => x(d)).attr("x2", d => x(d))
        .attr("y1", plotTop).attr("y2", plotBottom))
    .call(s => s.selectAll("line.h").data(cfg.yTicks).join("line")
        .attr("class", "h")
        .attr("x1", x(0)).attr("x2", x(100))
        .attr("y1", d => y(d)).attr("y2", d => y(d)));

  // axes
  const xAxis = g.append("g")
      .attr("transform", `translate(0,${plotBottom})`)
      .call(d3.axisBottom(x).tickValues(voteTicks).tickSize(6).tickPadding(8));
  xAxis.select(".domain").attr("stroke", "#dcdcdc");
  xAxis.selectAll(".tick line").attr("stroke", "#d0d0d0");
  xAxis.selectAll("text")
      .attr("font-size", 18)
      .attr("font-family", textFont)
      .attr("fill", "#555");

  const yAxis = g.append("g")
      .attr("transform", `translate(${x(0)},0)`)
      .call(d3.axisLeft(y).tickValues(cfg.yTicks).tickSize(0).tickPadding(14));
  yAxis.select(".domain").remove();
  yAxis.selectAll("text")
      .attr("font-size", 18)
      .attr("font-family", textFont)
      .attr("fill", "#555");

  // title
  g.append("text")
      .attr("x", cfg.titleX)
      .attr("y", 128)
      .attr("text-anchor", "middle")
      .attr("font-family", "Roboto, 'DejaVu Sans', sans-serif")
      .attr("font-weight", 500)
      .attr("font-size", 27)
      .attr("letter-spacing", 2)
      .attr("fill", "#333")
      .text(cfg.title);

  // axis labels
  g.append("text")
      .attr("x", (x(0) + x(100)) / 2)
      .attr("y", 587)
      .attr("text-anchor", "middle")
      .attr("font-style", "italic")
      .attr("font-size", 29)
      .attr("fill", "#555")
      .text("% vote for Trump");

  g.append("text")
      .attr("transform", `translate(${cfg.yLabelX},${(plotTop + plotBottom) / 2}) rotate(-90)`)
      .attr("text-anchor", "middle")
      .attr("font-style", "italic")
      .attr("font-size", 29)
      .attr("fill", "#555")
      .text(cfg.yLabel);

  // big counties
  g.append("g")
    .selectAll("circle")
    .data(cfg.bubbles.slice().sort((a, b) => b[2] - a[2]))
    .join("circle")
      .attr("cx", d => x(d[0]))
      .attr("cy", d => y(d[1]))
      .attr("r", d => Math.max(dotR, r(d[2])))
      .attr("fill", "#8c8c8c")
      .attr("fill-opacity", 0.3);

  // small counties
  g.append("g")
    .selectAll("circle")
    .data(cfg.points)
    .join("circle")
      .attr("cx", d => x(d[0]))
      .attr("cy", d => y(d[1]))
      .attr("r", dotR)
      .attr("fill", "#666")
      .attr("fill-opacity", 0.44);

  // averages
  const avg = g.append("g")
    .selectAll("g")
    .data(cfg.averages)
    .join("g")
      .attr("transform", d => `translate(${x(d[0])},${y(d[1])})`);
  avg.append("path")
      .attr("d", crossPath(18))
      .attr("stroke", "#fff")
      .attr("stroke-width", 9);
  avg.append("path")
      .attr("d", crossPath(16.5))
      .attr("stroke", (d, i) => avgColors[i])
      .attr("stroke-width", 5.5);
}

drawPanel({
  left: 94, yMax: 100, yTicks: vaccTicks,
  title: "VACCINATIONS", titleX: 300,
  yLabel: "% of adults vaccinated", yLabelX: 47,
  bubbles: vaccBubbles, points: vaccPoints, averages: vaccAverages
});

drawPanel({
  left: 665, yMax: 250, yTicks: deathTicks,
  title: "DEATHS", titleX: 870,
  yLabel: "Deaths per 100k", yLabelX: 602,
  bubbles: deathBubbles, points: deathPoints, averages: deathAverages
});

// legend
const legendPos = [[188, 20], [483, 20], [331, 66]];
const legend = svg.append("g")
  .selectAll("g")
  .data(averageNames)
  .join("g")
    .attr("transform", (d, i) => `translate(${legendPos[i][0]},${legendPos[i][1]})`);

legend.append("path")
    .attr("d", crossPath(15))
    .attr("stroke", (d, i) => avgColors[i])
    .attr("stroke-width", 5);

legend.append("text")
    .attr("x", 20)
    .attr("y", 11)
    .attr("font-size", 31)
    .attr("fill", "#555")
    .text(d => d);
</script>
</body>
</html>
